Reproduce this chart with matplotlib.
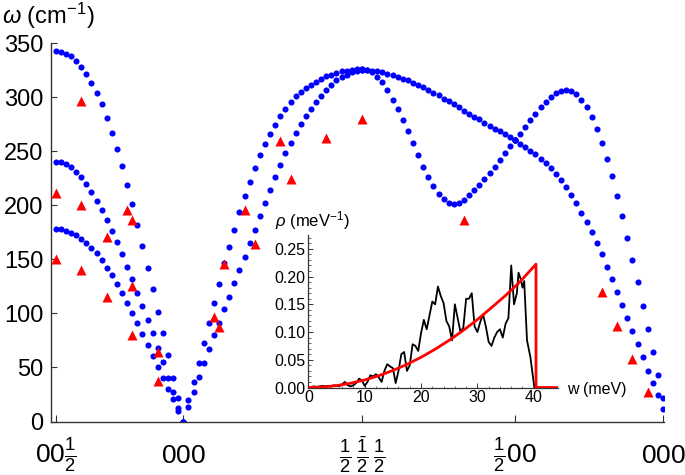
import matplotlib
matplotlib.use('Agg')
import matplotlib.pyplot as plt
import numpy as np

plt.rcParams['font.family'] = ['Liberation Sans', 'DejaVu Sans']
plt.rcParams['mathtext.fontset'] = 'custom'
plt.rcParams['mathtext.rm'] = 'Liberation Sans'
plt.rcParams['mathtext.it'] = 'Liberation Sans:italic'
plt.rcParams['mathtext.bf'] = 'Liberation Sans:bold'

# ---------------- data ----------------
# q-path: point index along the path; high-symmetry points
tick_pos = [0, 25, 60, 90, 119]
tick_labels = [r'$00\frac{1}{2}$', r'$000$', r'$\frac{1}{2}\,\frac{\bar{1}}{2}\,\frac{1}{2}$',
               r'$\frac{1}{2}00$', r'$000$']

# segment 1: 00 1/2 -> 000  (three branches)
seg1_top = [342.2, 341.6, 340.0, 337.6, 333.6, 328.3, 321.6, 313.2, 304.0, 293.2, 280.8, 267.2, 252.4,
            236.4, 218.8, 200.9, 181.8, 162.3, 142.2, 122.2, 101.5, 81.5, 61.1, 40.7, 21.3, 0.0]
seg1_mid = [240.4, 240.1, 238.2, 235.8, 231.1, 225.9, 219.4, 212.3, 204.3, 195.7, 186.4, 176.2, 165.7,
            154.6, 143.2, 131.5, 119.1, 106.8, 93.8, 81.5, 68.2, 55.3, 40.5, 27.5, 12.6, 0.0]
seg1_low = [178.1, 177.8, 176.5, 174.7, 172.2, 169.1, 165.4, 160.8, 155.6, 149.4, 142.3, 135.2, 127.2,
            118.9, 109.9, 100.7, 90.8, 80.9, 70.8, 60.6, 50.7, 40.5, 30.3, 20.4, 9.6, 0.0]
# segment 2: 000 -> 1/2 -1/2 1/2
seg2_outer = [0.0, 19.7, 36.7, 54.3, 72.8, 91.3, 109.2, 126.8, 146.3, 161.1, 177.1, 194.1, 208.6, 221.9,
              234.8, 246.6, 256.5, 265.8, 274.4, 282.2, 289.2, 295.4, 300.6, 304.6, 308.3, 311.4, 314.2,
              316.7, 319.1, 320.6, 322.5, 323.7, 324.6, 325.3, 325.6, 325.9]
seg2_inner = [0.0, 13.5, 27.4, 41.3, 54.3, 66.7, 79.6, 91.3, 104.3, 115.4, 127.8, 140.1, 152.4, 164.8,
              177.1, 190.1, 201.9, 214.2, 225.9, 237.3, 248.1, 258.0, 267.2, 275.3, 282.7, 289.4, 295.9,
              301.2, 306.8, 311.4, 315.4, 318.5, 320.9, 323.4, 324.6, 325.9]
# segment 3: 1/2 -1/2 1/2 -> 1/2 00
seg3_flat = [325.3, 324.7, 324.4, 323.7, 322.8, 321.6, 320.3, 318.8, 317.2, 315.4, 313.2, 311.1, 308.9,
             306.5, 304.0, 301.5, 298.7, 296.0, 293.2, 290.4, 287.6, 284.8, 282.0, 279.3, 276.5, 273.7,
             270.9, 268.5, 265.7, 263.0, 260.5]
seg3_dip = [325.3, 324.7, 323.2, 318.5, 313.6, 306.2, 297.6, 289.0, 279.1, 269.0, 257.5, 246.4, 235.6,
            226.1, 218.1, 210.7, 205.7, 202.0, 201.1, 202.0, 205.1, 209.1, 213.8, 218.4, 224.3, 229.8,
            235.4, 241.6, 248.0, 254.5, 260.7]
# segment 4: 1/2 00 -> 000
seg4_hump = [260.5, 266.0, 272.2, 278.4, 284.5, 290.4, 295.6, 299.9, 303.6, 306.1, 307.0, 306.1, 303.0,
             297.5, 290.4, 281.2, 270.4, 257.4, 242.6, 226.6, 208.7, 189.6, 170.1, 149.4, 128.8, 107.2,
             85.9, 64.3, 43.0, 21.4]
seg4_fall = [260.5, 256.8, 253.7, 250.6, 247.2, 243.2, 238.9, 234.0, 228.7, 222.9, 216.7, 209.6, 201.9,
             193.2, 184.6, 175.0, 165.5, 154.7, 143.2, 131.8, 120.1, 107.8, 96.1, 83.7, 71.7, 59.4,
             47.0, 35.3, 24.2, 11.3]

# experimental points (red triangles)
exp_x = [0, 0, 5, 5, 5, 10, 10, 14, 15, 15, 15, 20, 20, 31, 32, 33, 37, 39, 44, 46, 53, 60, 80,
         107, 110, 113, 116]
exp_y = [211, 150, 296, 200, 140, 171, 115, 196, 186, 125, 80, 64.5, 37.6, 97, 87, 146, 196, 164,
         259.5, 224, 262.6, 279.5, 186, 120, 88, 57.7, 27.4]

# inset: phonon density of states
dos_w = [0.0, 0.5, 1.0, 1.5, 2.0, 2.5, 3.0, 3.5, 4.0, 4.5, 5.0, 5.5, 6.0, 6.5, 7.0, 7.5, 8.0, 8.5,
         9.0, 9.5, 10.0, 10.5, 11.0, 11.5, 12.0, 12.5, 13.0, 13.5, 14.0, 14.5, 15.0, 15.5, 16.0, 16.5,
         17.0, 17.5, 18.0, 18.5, 19.0, 19.5, 20.0, 20.5, 21.0, 21.5, 22.0, 22.5, 23.0, 23.5, 24.0,
         24.5, 25.0, 25.5, 26.0, 26.5, 27.0, 27.5, 28.0, 28.5, 29.0, 29.5, 30.0, 30.5, 31.0, 31.5,
         32.0, 32.5, 33.0, 33.5, 34.0, 34.5, 35.0, 35.5, 36.0, 36.5, 37.0, 37.3, 37.7, 38.0, 38.3,
         38.8, 39.4, 40.1, 41.0]
dos_rho = [0.000, 0.001, 0.002, 0.001, 0.002, 0.003, 0.002, 0.003, 0.002, 0.004, 0.003, 0.002,
           0.006, 0.010, 0.004, 0.002, 0.004, 0.008, 0.016, 0.013, 0.003, 0.010, 0.022, 0.020, 0.024,
           0.018, 0.010, 0.030, 0.042, 0.038, 0.035, 0.008, 0.030, 0.060, 0.064, 0.030, 0.040, 0.078,
           0.075, 0.066, 0.098, 0.122, 0.105, 0.130, 0.155, 0.150, 0.182, 0.165, 0.152, 0.120, 0.110,
           0.085, 0.150, 0.125, 0.100, 0.108, 0.160, 0.160, 0.170, 0.110, 0.100, 0.118, 0.132, 0.110,
           0.082, 0.075, 0.090, 0.100, 0.105, 0.090, 0.115, 0.125, 0.220, 0.150, 0.170, 0.207, 0.195,
           0.180, 0.192, 0.085, 0.055, 0.000, 0.000]
debye_w = [0.0, 2.5, 5.0, 7.5, 10.0, 12.5, 15.0, 17.5, 20.0, 22.5, 25.0, 27.5, 30.0, 32.5, 35.0,
           37.5, 40.0, 40.4, 40.4, 44.3]
debye_rho = [0.0, 0.0009, 0.0034, 0.0077, 0.0136, 0.0213, 0.0307, 0.0417, 0.0545, 0.069, 0.0852,
             0.1031, 0.1225, 0.144, 0.166, 0.190, 0.218, 0.2225, 0.0, 0.0]

# ---------------- plot ----------------
fig = plt.figure(figsize=(6.85, 4.75), dpi=100)
ax = fig.add_axes([0.0739, 0.1126, 0.8956, 0.7968])

blue = '#0000ff'
segments = [(tick_pos[0], [seg1_top, seg1_mid, seg1_low]),
            (tick_pos[1], [seg2_outer, seg2_inner]),
            (tick_pos[2], [seg3_flat, seg3_dip]),
            (tick_pos[3], [seg4_hump, seg4_fall])]
for start, branches in segments:
    for br in branches:
        xs = start + np.arange(len(br))
        ax.plot(xs, br, 'o', color=blue, ms=4.4, mec='none', zorder=2)

ax.plot(exp_x, exp_y, '^', color='#ff0000', ms=7.5, mec='none', zorder=3)

ax.set_xlim(-1, 119.2)
ax.set_ylim(0, 350)
axcol = '#333333'
for s in ['top', 'right']:
    ax.spines[s].set_visible(False)
for s in ['left', 'bottom']:
    ax.spines[s].set_color(axcol)
    ax.spines[s].set_linewidth(1.0)
ax.set_yticks(np.arange(0, 351, 50))
ax.tick_params(axis='y', direction='in', length=4, width=0.8, color=axcol, labelsize=17, pad=5)
ax.set_xticks(tick_pos)
ax.set_xticklabels([''] * len(tick_pos))
ax.tick_params(axis='x', direction='in', length=5, width=0.8, color=axcol)
for xp, lab in zip(tick_pos, tick_labels):
    ax.text(xp, -0.1096, lab, transform=ax.get_xaxis_transform(), ha='center', va='baseline',
            fontsize=19)

fig.text(0.003, 1 - 24 / 475, r'$\omega$ (cm$^{-1}$)', fontsize=17, va='baseline', ha='left')

# inset
axin = fig.add_axes([0.4501, 0.1842, 0.3645, 0.3211])
axin.patch.set_alpha(0)
axin.plot(dos_w, dos_rho, color='black', lw=1.3, zorder=2)
axin.plot(debye_w, debye_rho, color='#ff0000', lw=2.0, zorder=3)
axin.set_xlim(0, 44.3)
axin.set_ylim(0, 0.275)
for s in ['top', 'right']:
    axin.spines[s].set_visible(False)
for s in ['left', 'bottom']:
    axin.spines[s].set_color(axcol)
    axin.spines[s].set_linewidth(0.9)
axin.set_xticks([0, 10, 20, 30, 40])
axin.set_xticks(np.arange(0, 44.3, 2), minor=True)
axin.set_yticks([0.0, 0.05, 0.10, 0.15, 0.20, 0.25])
axin.set_yticks(np.arange(0, 0.271, 0.01), minor=True)
axin.set_yticklabels(['0.00', '0.05', '0.10', '0.15', '0.20', '0.25'])
axin.tick_params(which='major', direction='in', length=3.5, width=0.7, color=axcol,
                 labelsize=11.5, pad=2)
axin.tick_params(which='minor', direction='in', length=1.8, width=0.5, color=axcol)
fig.text(275 / 685, 1 - 226 / 475, r'$\rho$ (meV$^{-1}$)', fontsize=12, va='baseline', ha='left')
fig.text(566.7 / 685, 1 - 394 / 475, 'w (meV)', fontsize=11.5, va='baseline', ha='left')

fig.savefig('out.png', dpi=100)
